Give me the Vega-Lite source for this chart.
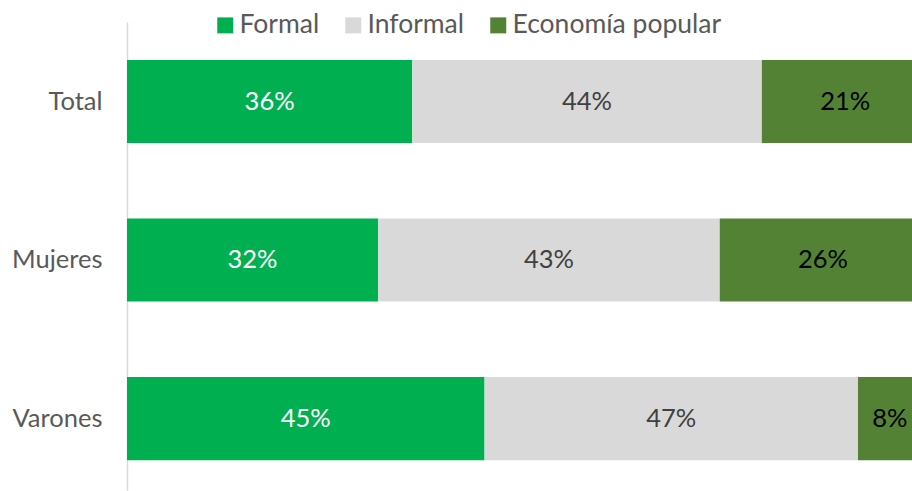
{
  "$schema": "https://vega.github.io/schema/vega-lite/v6.json",
  "autosize": {"type": "none"},
  "padding": {"left": 127, "top": 22, "right": 0, "bottom": 1},
  "width": 785,
  "height": 468,
  "background": "#ffffff",
  "config": {"view": {"stroke": null}, "font": "Lato"},
  "data": {
    "values": [
      {"cat": "Total", "tipo": "Formal", "ord": 1, "value": 35.9, "label": "36%"},
      {"cat": "Total", "tipo": "Informal", "ord": 2, "value": 44, "label": "44%"},
      {"cat": "Total", "tipo": "Economía popular", "ord": 3, "value": 21, "label": "21%"},
      {"cat": "Mujeres", "tipo": "Formal", "ord": 1, "value": 31.6, "label": "32%"},
      {"cat": "Mujeres", "tipo": "Informal", "ord": 2, "value": 43, "label": "43%"},
      {"cat": "Mujeres", "tipo": "Economía popular", "ord": 3, "value": 26, "label": "26%"},
      {"cat": "Varones", "tipo": "Formal", "ord": 1, "value": 45, "label": "45%"},
      {"cat": "Varones", "tipo": "Informal", "ord": 2, "value": 47, "label": "47%"},
      {"cat": "Varones", "tipo": "Economía popular", "ord": 3, "value": 8, "label": "8%"}
    ]
  },
  "encoding": {
    "y": {
      "field": "cat", "type": "nominal", "sort": ["Total", "Mujeres", "Varones"],
      "scale": {"paddingInner": 0.476, "paddingOuter": 0.214, "align": 0.56},
      "axis": {"title": null, "ticks": false, "domainColor": "#d9d9d9", "domainWidth": 1.5,
               "labelFontSize": 25.5, "labelColor": "#595959", "labelPadding": 25, "labelFont": "Lato"}
    },
    "x": {
      "field": "value", "type": "quantitative", "stack": "zero",
      "scale": {"domain": [0, 98.8], "nice": false, "zero": true},
      "axis": null
    },
    "order": {"field": "ord", "type": "quantitative"}
  },
  "layer": [
    {
      "mark": {"type": "bar", "clip": true},
      "encoding": {
        "color": {
          "field": "tipo", "type": "nominal",
          "scale": {"domain": ["Formal", "Informal", "Economía popular"], "range": ["#00b050", "#d9d9d9", "#548235"]},
          "legend": {
            "title": null, "orient": "none", "direction": "horizontal",
            "legendX": 85, "legendY": -10,
            "symbolType": "square", "symbolSize": 256, "symbolStrokeWidth": 0, "symbolOpacity": 1,
            "labelFontSize": 26.5, "labelColor": "#595959", "labelFont": "Lato",
            "labelOffset": 1, "columnPadding": 20, "labelLimit": 400
          }
        }
      }
    },
    {
      "mark": {"type": "text", "fontSize": 25.5, "font": "Lato"},
      "encoding": {
        "x": {"field": "value", "type": "quantitative", "stack": "zero", "bandPosition": 0.5},
        "text": {"field": "label"},
        "color": {
          "condition": [
            {"test": "datum.tipo === 'Formal'", "value": "#ffffff"},
            {"test": "datum.tipo === 'Informal'", "value": "#404040"}
          ],
          "value": "#000000"
        }
      }
    }
  ]
}
